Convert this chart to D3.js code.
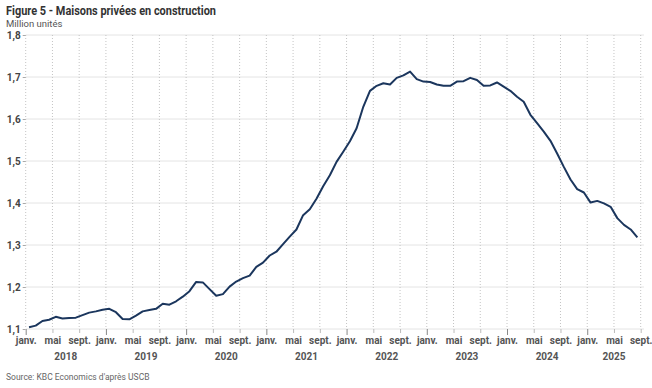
<!DOCTYPE html>
<html>
<head>
<meta charset="utf-8">
<script src="https://cdn.jsdelivr.net/npm/d3@7"></script>
<style>
  body { margin: 0; background: #fff; }
  text { font-family: "Liberation Sans Narrow", "Roboto", sans-serif; }
</style>
</head>
<body>
<div id="chart"></div>
<script>

// monthly, janv. 2018 -> août 2025 (million units)
var values = [
  1.104, 1.108, 1.119, 1.122, 1.129, 1.125, 1.126, 1.127, 1.133, 1.139, 1.142, 1.146,
  1.148, 1.140, 1.124, 1.123, 1.132, 1.142, 1.145, 1.148, 1.160, 1.158, 1.166, 1.177,
  1.190, 1.212, 1.211, 1.195, 1.179, 1.183, 1.201, 1.213, 1.221, 1.227, 1.248, 1.258,
  1.275, 1.284, 1.302, 1.320, 1.337, 1.371, 1.385, 1.410, 1.440, 1.466, 1.498, 1.522,
  1.547, 1.578, 1.629, 1.667, 1.679, 1.685, 1.682, 1.698, 1.704, 1.713, 1.695, 1.689,
  1.688, 1.682, 1.679, 1.679, 1.689, 1.690, 1.698, 1.693, 1.679, 1.680, 1.687, 1.677,
  1.667, 1.653, 1.641, 1.610, 1.590, 1.570, 1.548, 1.518, 1.486, 1.456, 1.433, 1.425,
  1.401, 1.405, 1.399, 1.391, 1.364, 1.348, 1.337, 1.318
];
var monthLabels = ["janv.", "mai", "sept."];
var years = ["2018", "2019", "2020", "2021", "2022", "2023", "2024", "2025"];
var yTicks = [1.1, 1.2, 1.3, 1.4, 1.5, 1.6, 1.7, 1.8];

var width = 652, height = 388;
var plotLeft = 25.7, plotRight = 640.7, plotTop = 35, plotBottom = 329;

var svg = d3.select("#chart").append("svg")
  .attr("width", width)
  .attr("height", height);

var x = d3.scaleLinear().domain([0, 92]).range([plotLeft, plotRight]);
var y = d3.scaleLinear().domain([1.1, 1.8]).range([plotBottom, plotTop]);

var xTicks = d3.range(0, 93, 4);
var fmt = function(d) { return d3.format(".1f")(d).replace(".", ","); };

// horizontal grid
svg.append("g").selectAll("line")
  .data(yTicks)
  .enter().append("line")
  .attr("x1", plotLeft)
  .attr("x2", 644)
  .attr("y1", function(d) { return y(d); })
  .attr("y2", function(d) { return y(d); })
  .attr("stroke", "#e4e4e4")
  .attr("stroke-width", 1);

// vertical dotted grid
svg.append("g").selectAll("line")
  .data(xTicks)
  .enter().append("line")
  .attr("x1", function(d) { return x(d); })
  .attr("x2", function(d) { return x(d); })
  .attr("y1", plotTop)
  .attr("y2", plotBottom)
  .attr("stroke", "#c4c4c4")
  .attr("stroke-width", 1)
  .style("stroke-dasharray", "1, 2");

// x axis tick marks + labels
var xAxis = d3.axisBottom(x)
  .tickValues(xTicks)
  .tickSize(4)
  .tickFormat(function(d) { return monthLabels[(d / 4) % 3]; });

var gx = svg.append("g")
  .attr("transform", "translate(0," + plotBottom + ")")
  .call(xAxis);
gx.select(".domain").remove();
gx.selectAll(".tick line")
  .attr("stroke", function(d) { return d % 12 == 0 ? "#888" : "#bbb"; })
  .attr("y2", function(d) { return d % 12 == 0 ? 6 : 4; });
gx.selectAll(".tick text")
  .attr("y", 8)
  .attr("dy", "0.71em")
  .style("font-size", "10px")
  .style("font-weight", "bold")
  .style("fill", "#555");

// years
svg.append("g").selectAll("text")
  .data(years)
  .enter().append("text")
  .attr("x", function(d, i) { return i == 7 ? x(88) : x(i * 12 + 6); })
  .attr("y", 360)
  .attr("text-anchor", "middle")
  .style("font-size", "10px")
  .style("font-weight", "bold")
  .style("fill", "#555")
  .text(function(d) { return d; });

// y axis
var yAxis = d3.axisLeft(y)
  .tickValues(yTicks)
  .tickSize(3)
  .tickFormat(fmt);

var gy = svg.append("g")
  .attr("transform", "translate(" + plotLeft + ",0)")
  .call(yAxis);
gy.select(".domain").remove();
gy.selectAll(".tick line").attr("stroke", "#aaa");
gy.selectAll(".tick text")
  .attr("x", -5)
  .style("font-size", "10px")
  .style("font-weight", "bold")
  .style("fill", "#444");

// the line
var line = d3.line()
  .x(function(d, i) { return x(i + 0.5); })
  .y(function(d) { return y(d); });

svg.append("path")
  .datum(values)
  .attr("d", line)
  .attr("fill", "none")
  .attr("stroke", "#1b365d")
  .attr("stroke-width", 2)
  .attr("stroke-linejoin", "round");

// titles
svg.append("text")
  .attr("x", 6)
  .attr("y", 15)
  .attr("textLength", 210)
  .attr("lengthAdjust", "spacingAndGlyphs")
  .style("font-size", "12.5px")
  .style("font-weight", "bold")
  .style("fill", "#333")
  .text("Figure 5 - Maisons privées en construction");

svg.append("text")
  .attr("x", 6)
  .attr("y", 27)
  .style("font-size", "9.5px")
  .style("fill", "#555")
  .text("Million unités");

svg.append("text")
  .attr("x", 6)
  .attr("y", 380)
  .style("font-size", "8.5px")
  .style("fill", "#666")
  .text("Source: KBC Economics d'après USCB");

</script>
</body>
</html>
